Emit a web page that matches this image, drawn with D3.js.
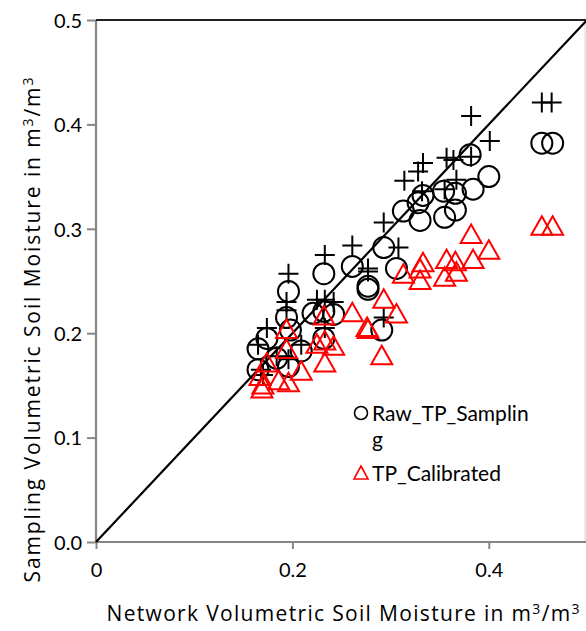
<!DOCTYPE html>
<html>
<head>
<meta charset="utf-8">
<script src="https://cdn.jsdelivr.net/npm/d3@7"></script>
<style>
  body { margin: 0; background: #fff; }
  svg { font-family: Lato, "Open Sans", sans-serif; }
</style>
</head>
<body>
<svg id="chart"></svg>
<script>
// Raw_TP_Sampling (open circles)
var rawX = [0.454, 0.465, 0.381, 0.400, 0.384, 0.354, 0.366, 0.333, 0.328, 0.313, 0.366, 0.330, 0.355,
    0.293, 0.306, 0.261, 0.232, 0.277, 0.277, 0.196, 0.194, 0.221, 0.232, 0.242, 0.291, 0.232,
    0.165, 0.174, 0.198, 0.209, 0.165, 0.196, 0.184];
var rawY = [0.382, 0.382, 0.371, 0.350, 0.338, 0.336, 0.334, 0.332, 0.325, 0.317, 0.318, 0.308, 0.311,
    0.282, 0.262, 0.264, 0.257, 0.245, 0.242, 0.240, 0.215, 0.219, 0.221, 0.218, 0.203, 0.195,
    0.185, 0.195, 0.203, 0.183, 0.165, 0.168, 0.176];

// third series (plus signs, no legend entry visible)
var plusX = [0.454, 0.464, 0.382, 0.401, 0.357, 0.364, 0.382, 0.333, 0.328, 0.314, 0.367, 0.332, 0.355,
    0.293, 0.308, 0.261, 0.233, 0.196, 0.277, 0.277, 0.194, 0.194, 0.225, 0.233, 0.242, 0.293,
    0.233, 0.174, 0.209, 0.165, 0.184, 0.196, 0.168, 0.170];
var plusY = [0.421, 0.421, 0.408, 0.384, 0.368, 0.366, 0.369, 0.363, 0.355, 0.346, 0.347, 0.336, 0.338,
    0.306, 0.282, 0.284, 0.275, 0.257, 0.262, 0.259, 0.230, 0.222, 0.232, 0.232, 0.230, 0.215,
    0.205, 0.205, 0.189, 0.189, 0.178, 0.175, 0.165, 0.160];

// TP_Calibrated (red triangles)
var calX = [0.454, 0.465, 0.382, 0.400, 0.384, 0.357, 0.366, 0.333, 0.330, 0.367, 0.355, 0.313, 0.330,
    0.232, 0.194, 0.261, 0.293, 0.306, 0.276, 0.277, 0.291, 0.242, 0.225, 0.233, 0.233, 0.194,
    0.209, 0.174, 0.167, 0.186, 0.196, 0.169, 0.170];
var calY = [0.302, 0.302, 0.294, 0.279, 0.270, 0.270, 0.268, 0.267, 0.261, 0.258, 0.253, 0.256, 0.250,
    0.216, 0.203, 0.219, 0.232, 0.218, 0.205, 0.203, 0.178, 0.187, 0.189, 0.171, 0.192, 0.184,
    0.163, 0.171, 0.158, 0.154, 0.152, 0.146, 0.150];

var xTicks = [0, 0.2, 0.4];
var yTicks = [0, 0.1, 0.2, 0.3, 0.4, 0.5];
var legendNames = ['Raw_TP_Samplin', 'g', 'TP_Calibrated'];

var svgWidth = 586,
    svgHeight = 631;
var margin = {top: 20, right: 0, bottom: 89, left: 96};
var width = 491,
    height = svgHeight - margin.top - margin.bottom;

var svg = d3.select('#chart')
    .attr('width', svgWidth)
    .attr('height', svgHeight);

var g = svg.append('g')
    .attr('transform', 'translate(' + margin.left + ', ' + margin.top + ')');

var x = d3.scaleLinear().domain([0, 0.5]).range([0, width]);
var y = d3.scaleLinear().domain([0, 0.5]).range([height, 0]);

// right border of the plot area
g.append('line')
    .attr('x1', width - 2).attr('x2', width - 2)
    .attr('y1', 0).attr('y2', height)
    .attr('stroke', '#e4e4e4')
    .attr('stroke-width', 1.5);

// axes
var xAxis = g.append('g')
    .attr('transform', 'translate(0, ' + height + ')')
    .call(d3.axisBottom(x).tickValues(xTicks).tickSize(7).tickPadding(14)
        .tickFormat(function (d) { return d === 0 ? '0' : d3.format('.1f')(d); }));
var yAxis = g.append('g')
    .call(d3.axisLeft(y).tickValues(yTicks).tickSize(9).tickPadding(5)
        .tickFormat(d3.format('.1f')));

[xAxis, yAxis].forEach(function (ax) {
    ax.select('.domain').attr('stroke', '#868686').attr('stroke-width', 2.2);
    ax.selectAll('.tick line').attr('stroke', '#868686').attr('stroke-width', 2);
    ax.selectAll('.tick text')
        .attr('fill', '#000')
        .style('font-size', '20px')
        .style('font-family', 'Lato, sans-serif');
});
xAxis.select('.domain').attr('d', 'M0,0H' + width);
yAxis.select('.domain').attr('d', 'M0,' + height + 'V0');
yAxis.selectAll('.tick text').attr('dy', '0.36em');

// top line at 0.5
g.append('line')
    .attr('x1', x(0)).attr('x2', x(0.5))
    .attr('y1', y(0.5)).attr('y2', y(0.5))
    .attr('stroke', '#222')
    .attr('stroke-width', 2);

// 1:1 line
g.append('line')
    .attr('x1', x(0)).attr('y1', y(0))
    .attr('x2', x(0.5)).attr('y2', y(0.5))
    .attr('stroke', '#000')
    .attr('stroke-width', 2.2);

var circleData = rawX.map(function (d, i) { return [d, rawY[i]]; });
var plusData = plusX.map(function (d, i) { return [d, plusY[i]]; });
var calData = calX.map(function (d, i) { return [d, calY[i]]; });

g.selectAll('.plus')
    .data(plusData)
    .enter()
    .append('path')
    .attr('class', 'plus')
    .attr('d', 'M-10,0H10M0,-10V10')
    .attr('transform', function (d) { return 'translate(' + x(d[0]) + ',' + y(d[1]) + ')'; })
    .attr('stroke', '#000')
    .attr('stroke-width', 2)
    .attr('fill', 'none');

g.selectAll('.raw')
    .data(circleData)
    .enter()
    .append('circle')
    .attr('class', 'raw')
    .attr('cx', function (d) { return x(d[0]); })
    .attr('cy', function (d) { return y(d[1]); })
    .attr('r', 10.5)
    .attr('fill', 'none')
    .attr('stroke', '#000')
    .attr('stroke-width', 2);

var triPath = 'M0,-10.5L10.5,8L-10.5,8Z';
g.selectAll('.cal')
    .data(calData)
    .enter()
    .append('path')
    .attr('class', 'cal')
    .attr('d', triPath)
    .attr('transform', function (d) { return 'translate(' + x(d[0]) + ',' + y(d[1]) + ')'; })
    .attr('fill', 'none')
    .attr('stroke', '#ff0000')
    .attr('stroke-width', 2);

// legend
var legend = svg.append('g')
    .attr('transform', 'translate(361, 0)');
legend.append('circle')
    .attr('cx', 0).attr('cy', 413)
    .attr('r', 6.5)
    .attr('fill', 'none')
    .attr('stroke', '#000')
    .attr('stroke-width', 1.6);
legend.append('path')
    .attr('d', 'M0,466L7,479L-7,479Z')
    .attr('fill', 'none')
    .attr('stroke', '#ff0000')
    .attr('stroke-width', 1.6);
legend.selectAll('.legtext')
    .data(legendNames)
    .enter()
    .append('text')
    .attr('class', 'legtext')
    .attr('x', 11)
    .attr('y', function (d, i) { return [421, 447, 481][i]; })
    .style('font-size', '21px')
    .attr('fill', '#000')
    .text(function (d) { return d; });

// axis titles
var xTitle = svg.append('text')
    .attr('x', 343)
    .attr('y', 621)
    .attr('text-anchor', 'middle')
    .attr('textLength', 473)
    .attr('lengthAdjust', 'spacing')
    .style('font-family', '"Open Sans", sans-serif')
    .style('font-size', '21px')
    .attr('fill', '#000');
xTitle.append('tspan').text('Network Volumetric Soil Moisture in m');
xTitle.append('tspan').attr('dy', -7).style('font-size', '14px').text('3');
xTitle.append('tspan').attr('dy', 7).text('/m');
xTitle.append('tspan').attr('dy', -7).style('font-size', '14px').text('3');

var yTitle = svg.append('text')
    .attr('transform', 'translate(40, 330) rotate(-90)')
    .attr('text-anchor', 'middle')
    .attr('textLength', 505)
    .attr('lengthAdjust', 'spacing')
    .style('font-family', '"Open Sans", sans-serif')
    .style('font-size', '21px')
    .attr('fill', '#000');
yTitle.append('tspan').text('Sampling Volumetric Soil Moisture in m');
yTitle.append('tspan').attr('dy', -7).style('font-size', '14px').text('3');
yTitle.append('tspan').attr('dy', 7).text('/m');
yTitle.append('tspan').attr('dy', -7).style('font-size', '14px').text('3');
</script>
</body>
</html>
